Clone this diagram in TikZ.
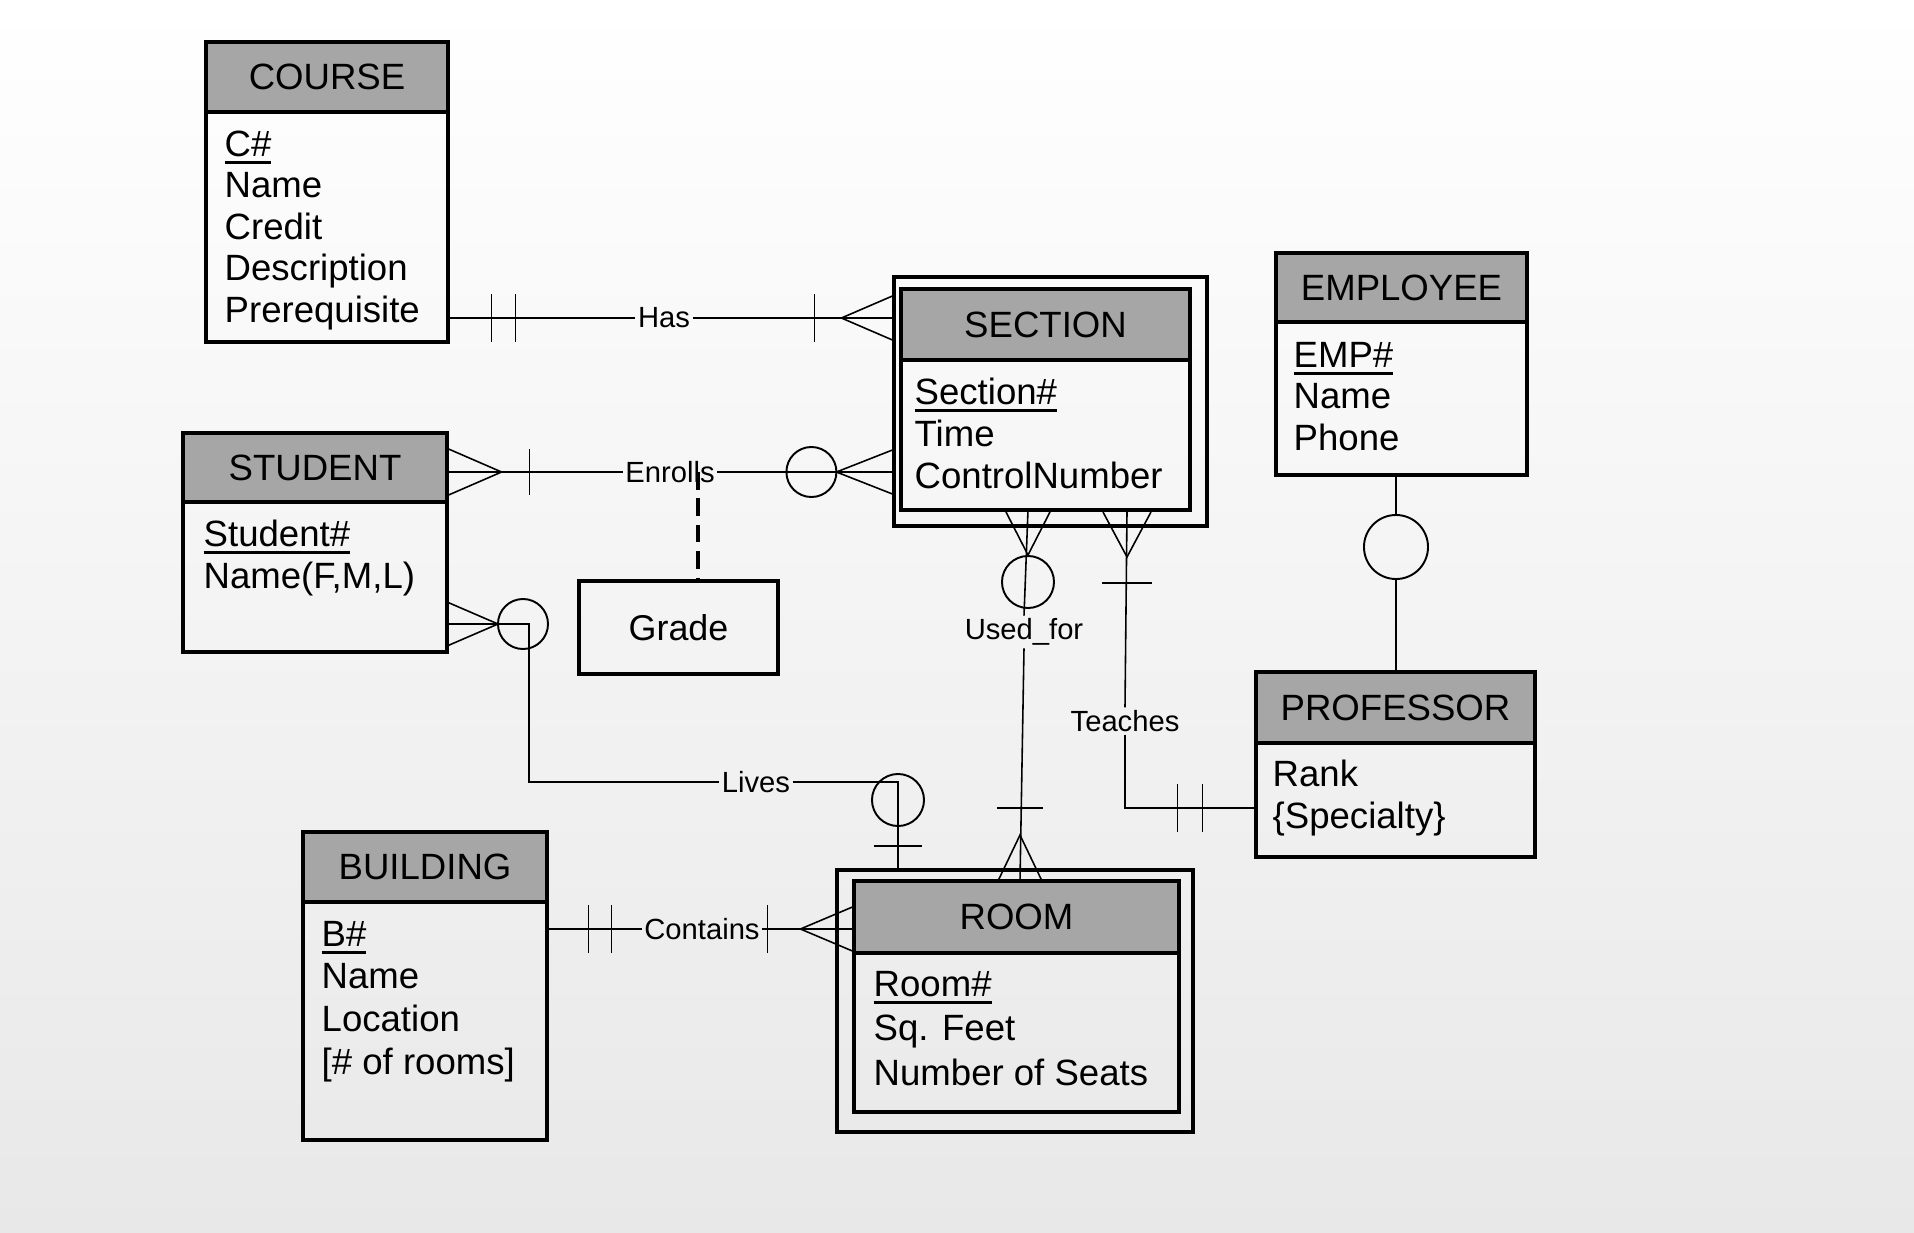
\documentclass[tikz,border=0pt]{standalone}
\usepackage{fontspec}
\setmainfont{Liberation Sans}
\usetikzlibrary{fit,calc}
\newcommand\erattrs[5]{\foreach \t [count=\i] in {#5} {\node[attr] (#1-a\i) at ({#2},{#3+#4*(\i-1)}) {\t};}}
\newcommand\keyattr[1]{\setbox0\hbox{#1}\rlap{\rule[-2.3pt]{\wd0}{0.75pt}}\box0}
\begin{document}
\begin{tikzpicture}[x=0.01cm,y=-0.01cm,
  box/.style={draw,line width=0.9pt,inner sep=0pt},
  hdr/.style={draw,line width=0.9pt,inner sep=0pt,fill=black!35},
  ttl/.style={font=\fontsize{10.4}{12}\selectfont,inner sep=0pt},
  attr/.style={font=\fontsize{10.4}{12}\selectfont,anchor=base west,inner sep=0pt},
  rel/.style={font=\fontsize{8.3}{10}\selectfont,inner sep=0.6pt},
  conn/.style={line width=0.45pt},
  ring/.style={circle,draw,line width=0.55pt,inner sep=0pt},
  grdash/.style={line width=1.1pt,dash pattern=on 5pt off 2.5pt}]
\useasboundingbox (0,0) rectangle (1914,1233);
\shade[top color=white,bottom color=black!9] (0,0) rectangle (1914,1233);

% COURSE
\node[box,fit={(206,42)(448,342)}] (course) {};
\node[hdr,fit={(206,42)(448,112)}] (course-h) {};
\node[ttl] (course-t) at (course-h.center) {COURSE};
\erattrs{course}{224}{156}{41.5}{\keyattr{C\#},Name,Credit,Description,Prerequisite}

% SECTION
\node[box,fit={(894,277)(1207,526)}] (secO) {};
\node[box,fit={(901,289)(1190,510)}] (secI) {};
\node[hdr,fit={(901,289)(1190,360)}] (sec-h) {};
\node[ttl] (sec-t) at (sec-h.center) {SECTION};
\erattrs{sec}{914}{404}{42}{\keyattr{Section\#},Time,ControlNumber}

% EMPLOYEE
\node[box,fit={(1276,253)(1527,475)}] (emp) {};
\node[hdr,fit={(1276,253)(1527,322)}] (emp-h) {};
\node[ttl] (emp-t) at (emp-h.center) {EMPLOYEE};
\erattrs{emp}{1293}{367}{41.5}{\keyattr{EMP\#},Name,Phone}

% STUDENT
\node[box,fit={(183,433)(447,652)}] (stu) {};
\node[hdr,fit={(183,433)(447,502)}] (stu-h) {};
\node[ttl] (stu-t) at (stu-h.center) {STUDENT};
\erattrs{stu}{203}{546}{42}{\keyattr{Student\#},{Name(F,M,L)}}

% GRADE
\node[draw,line width=0.9pt,minimum width=1.99cm,minimum height=0.93cm,inner sep=0pt,font=\fontsize{10.2}{12}\selectfont] (grade) at (678.5,627.5) {Grade};

% PROFESSOR
\node[box,fit={(1256,672)(1535,857)}] (prof) {};
\node[hdr,fit={(1256,672)(1535,743)}] (prof-h) {};
\node[ttl] (prof-t) at (prof-h.center) {PROFESSOR};
\erattrs{prof}{1272}{786}{42}{Rank,\{Specialty\}}

% BUILDING
\node[box,fit={(303,832)(547,1140)}] (bld) {};
\node[hdr,fit={(303,832)(547,902)}] (bld-h) {};
\node[ttl] (bld-t) at (bld-h.center) {BUILDING};
\erattrs{bld}{321}{946}{42.7}{\keyattr{B\#},Name,Location,{[\# of rooms]}}

% ROOM
\node[box,fit={(837,870)(1193,1132)}] (roomO) {};
\node[box,fit={(854,881)(1179,1112)}] (roomI) {};
\node[hdr,fit={(854,881)(1179,953)}] (room-h) {};
\node[ttl] (room-t) at (room-h.center) {ROOM};
\erattrs{room}{873}{996}{44.5}{\keyattr{Room\#},Sq. Feet,Number of Seats}

% Has
\node[rel] (has) at (664,318) {Has};
\coordinate (hasL) at (course.east |- has);
\coordinate (hasR) at (secO.west |- has);
\draw[conn] (hasL) -- (has.west);
\draw[conn] (has.east) -- (hasR);
\draw[conn] ($(hasL)+(42,-24)$) -- ($(hasL)+(42,24)$);
\draw[conn] ($(hasL)+(66,-24)$) -- ($(hasL)+(66,24)$);
\draw[conn] ($(hasR)+(-78,-24)$) -- ($(hasR)+(-78,24)$);
\draw[conn] ($(hasR)+(0,-22)$) -- ($(hasR)+(-51,0)$) -- ($(hasR)+(0,22)$);

% Enrolls
\node[rel] (enr) at (670,472) {Enrolls};
\coordinate (enrL) at (stu.east |- enr);
\coordinate (enrR) at (secO.west |- enr);
\draw[conn] (enrL) -- (enr.west);
\draw[conn] (enr.east) -- (enrR);
\draw[conn] ($(enrL)+(0,-23)$) -- ($(enrL)+(53,0)$) -- ($(enrL)+(0,23)$);
\draw[conn] ($(enrL)+(81,-23)$) -- ($(enrL)+(81,23)$);
\node[ring,minimum size=0.5cm] (enrC) at ($(enrR)+(-81,0)$) {};
\draw[conn] ($(enrR)+(0,-22)$) -- ($(enrR)+(-56,0)$) -- ($(enrR)+(0,22)$);
\coordinate (enrD) at (698,472);
\draw[grdash] (enrD) -- (enrD |- grade.north);

% Lives
\node[rel] (liv) at (756,782) {Lives};
\coordinate (livL) at (447,624);
\coordinate (livB) at (898,870);
\draw[conn] (livL) -- ++(82,0) |- (liv.west);
\draw[conn] (liv.east) -| (livB);
\draw[conn] ($(livL)+(0,-22)$) -- ($(livL)+(51,0)$) -- ($(livL)+(0,22)$);
\node[ring,minimum size=0.5cm] (livC1) at (523,624) {};
\node[ring,minimum size=0.52cm] (livC2) at (898,800) {};
\draw[conn] ($(livB)+(-24,-24)$) -- ($(livB)+(24,-24)$);

% Contains
\node[rel] (con) at (702,929) {Contains};
\coordinate (conL) at (bld.east |- con);
\coordinate (conR) at (roomI.west |- con);
\draw[conn] (conL) -- (con.west);
\draw[conn] (con.east) -- (conR);
\draw[conn] ($(conL)+(40,-24)$) -- ($(conL)+(40,24)$);
\draw[conn] ($(conL)+(63,-24)$) -- ($(conL)+(63,24)$);
\draw[conn] ($(conR)+(-85,-24)$) -- ($(conR)+(-85,24)$);
\draw[conn] ($(conR)+(0,-22)$) -- ($(conR)+(-52,0)$) -- ($(conR)+(0,22)$);

% Used_for
\coordinate (usT) at (1028,510);
\coordinate (usB) at (1020,881);
\node[rel] (used) at (1024,632) {Used\_for};
\draw[conn] (usT) -- (used.north);
\draw[conn] (used.south) -- (usB);
\draw[conn] ($(usT)+(-23,0)$) -- ($(usT)+(0,45)$) -- ($(usT)+(23,0)$);
\node[ring,minimum size=0.52cm] (usC) at ($(usT)+(0,72)$) {};
\draw[conn] ($(usB)+(-23,-73)$) -- ($(usB)+(23,-73)$);
\draw[conn] ($(usB)+(-22,0)$) -- ($(usB)+(0,-46)$) -- ($(usB)+(22,0)$);

% Teaches
\coordinate (teT) at (1127,512);
\node[rel] (tea) at (1125,721) {Teaches};
\coordinate (teC) at (1125,808);
\coordinate (teR) at (prof.west |- teC);
\draw[conn] (teT) -- (tea.north);
\draw[conn] (tea.south) -- (teC) -- (teR);
\draw[conn] ($(teT)+(-24,0)$) -- ($(teT)+(0,45)$) -- ($(teT)+(24,0)$);
\draw[conn] ($(teT)+(-25,71)$) -- ($(teT)+(25,71)$);
\draw[conn] ($(teR)+(-77,-24)$) -- ($(teR)+(-77,24)$);
\draw[conn] ($(teR)+(-52,-24)$) -- ($(teR)+(-52,24)$);

% EMPLOYEE - PROFESSOR
\node[ring,minimum size=0.64cm] (empC) at (1396,547) {};
\draw[conn] (emp.south -| empC) -- (empC.north);
\draw[conn] (empC.south) -- (prof.north -| empC);
\end{tikzpicture}
\end{document}
